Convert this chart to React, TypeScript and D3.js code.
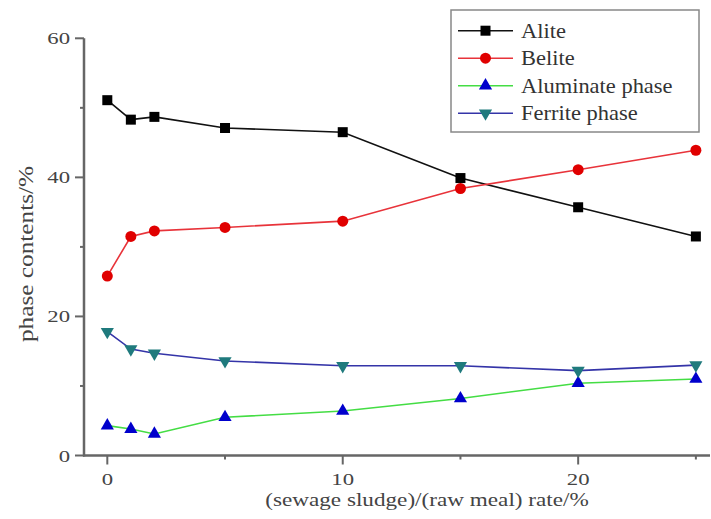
import React from "react";
import * as d3 from "d3";

const xValues = [0, 1, 2, 5, 10, 15, 20, 25];
const aliteValues = [51.1, 48.3, 48.7, 47.1, 46.5, 39.9, 35.7, 31.5];
const beliteValues = [25.8, 31.5, 32.3, 32.8, 33.7, 38.4, 41.1, 43.9];
const aluminateValues = [4.3, 3.8, 3.1, 5.5, 6.4, 8.2, 10.4, 11.0];
const ferriteValues = [17.8, 15.3, 14.7, 13.6, 12.9, 12.9, 12.2, 13.0];
const seriesNames = ["Alite", "Belite", "Aluminate phase", "Ferrite phase"];
const xMajorTicks = [0, 10, 20];
const xMinorTicks = [5, 15, 25];
const yMajorTicks = [0, 20, 40, 60];
const yMinorTicks = [10, 30, 50];
const xTitle = "(sewage sludge)/(raw meal) rate/%";
const yTitle = "phase contents/%";

type Marker = "square" | "circle" | "up" | "down";
const styles: { line: string; fill: string; marker: Marker }[] = [
  { line: "#111", fill: "#000", marker: "square" },
  { line: "#e8333a", fill: "#e00000", marker: "circle" },
  { line: "#44dd44", fill: "#0000cc", marker: "up" },
  { line: "#3434a8", fill: "#1f7a7d", marker: "down" },
];

const FONT = "'Liberation Serif', 'Times New Roman', serif";
const AXIS = "#666";

function MarkerShape({ type, x, y, fill }: { type: Marker; x: number; y: number; fill: string }) {
  if (type === "square") return <rect x={x - 5} y={y - 5} width={10} height={10} fill={fill} />;
  if (type === "circle") return <circle cx={x} cy={y} r={5.5} fill={fill} />;
  const sym = d3.symbol().type(d3.symbolTriangle).size(75)();
  return <path d={sym || ""} transform={`translate(${x},${y}) rotate(${type === "down" ? 180 : 0})`} fill={fill} />;
}

export default function App() {
  const width = 711;
  const height = 519;
  const x = d3.scaleLinear().domain([-0.99, 25.6]).range([84, 710]);
  const y = d3.scaleLinear().domain([0, 60]).range([455.5, 38.3]);
  const all = [aliteValues, beliteValues, aluminateValues, ferriteValues];
  const line = d3
    .line<number>()
    .x((_, i) => x(xValues[i]))
    .y((d) => y(d));

  const x0 = x(-0.99);
  const y0 = y(0);

  return (
    <svg width={width} height={height} style={{ position: "absolute", left: 0, top: 0, background: "#fff" }}>
      <rect width={width} height={height} fill="#fff" />
      {/* series lines */}
      {all.map((vals, si) => (
        <path key={"l" + si} d={line(vals) || ""} fill="none" stroke={styles[si].line} strokeWidth={1.6} />
      ))}
      {all.map((vals, si) =>
        vals.map((v, i) => (
          <MarkerShape key={`m${si}-${i}`} type={styles[si].marker} x={x(xValues[i])} y={y(v)} fill={styles[si].fill} />
        ))
      )}
      {/* axes */}
      <line x1={x0} x2={x0} y1={y(60)} y2={y0 + 1} stroke={AXIS} strokeWidth={2.5} />
      <line x1={x0 - 1} x2={710} y1={y0} y2={y0} stroke={AXIS} strokeWidth={2.5} />
      {yMajorTicks.map((t) => (
        <g key={"ym" + t}>
          <line x1={x0 - 9} x2={x0} y1={y(t)} y2={y(t)} stroke={AXIS} strokeWidth={2} />
          <text
            transform={`translate(70,${y(t) + 6}) scale(1.3,1)`}
            textAnchor="end"
            fontFamily={FONT}
            fontSize={17.5}
            fill="#444"
          >
            {t}
          </text>
        </g>
      ))}
      {yMinorTicks.map((t) => (
        <line key={"yn" + t} x1={x0 - 4} x2={x0} y1={y(t)} y2={y(t)} stroke={AXIS} strokeWidth={2} />
      ))}
      {xMajorTicks.map((t) => (
        <g key={"xm" + t}>
          <line x1={x(t)} x2={x(t)} y1={y0} y2={y0 + 9} stroke={AXIS} strokeWidth={2} />
          <text
            transform={`translate(${x(t)},${485}) scale(1.3,1)`}
            textAnchor="middle"
            fontFamily={FONT}
            fontSize={17.5}
            fill="#444"
          >
            {t}
          </text>
        </g>
      ))}
      {xMinorTicks.map((t) => (
        <line key={"xn" + t} x1={x(t)} x2={x(t)} y1={y0} y2={y0 + 4} stroke={AXIS} strokeWidth={2} />
      ))}
      <text
        transform={`translate(${(x0 + 710) / 2 + 30},506) scale(1.22,1)`}
        textAnchor="middle"
        fontFamily={FONT}
        fontSize={19}
        fill="#444"
      >
        {xTitle}
      </text>
      <text
        transform={`translate(33,254) rotate(-90) scale(1.15,1)`}
        textAnchor="middle"
        fontFamily={FONT}
        fontSize={22}
        fill="#444"
      >
        {yTitle}
      </text>
      {/* legend */}
      <rect x={451} y={10} width={248} height={122} fill="#fff" stroke="#888" strokeWidth={1.5} />
      {seriesNames.map((name, i) => {
        const ly = 30.7 + i * 27.5;
        return (
          <g key={"lg" + i}>
            <line x1={458} x2={513} y1={ly} y2={ly} stroke={styles[i].line} strokeWidth={1.6} />
            <MarkerShape type={styles[i].marker} x={485.5} y={ly} fill={styles[i].fill} />
            <text
              transform={`translate(521,${ly + 7}) scale(1.07,1)`}
              fontFamily={FONT}
              fontSize={21}
              fill="#333"
            >
              {name}
            </text>
          </g>
        );
      })}
    </svg>
  );
}
